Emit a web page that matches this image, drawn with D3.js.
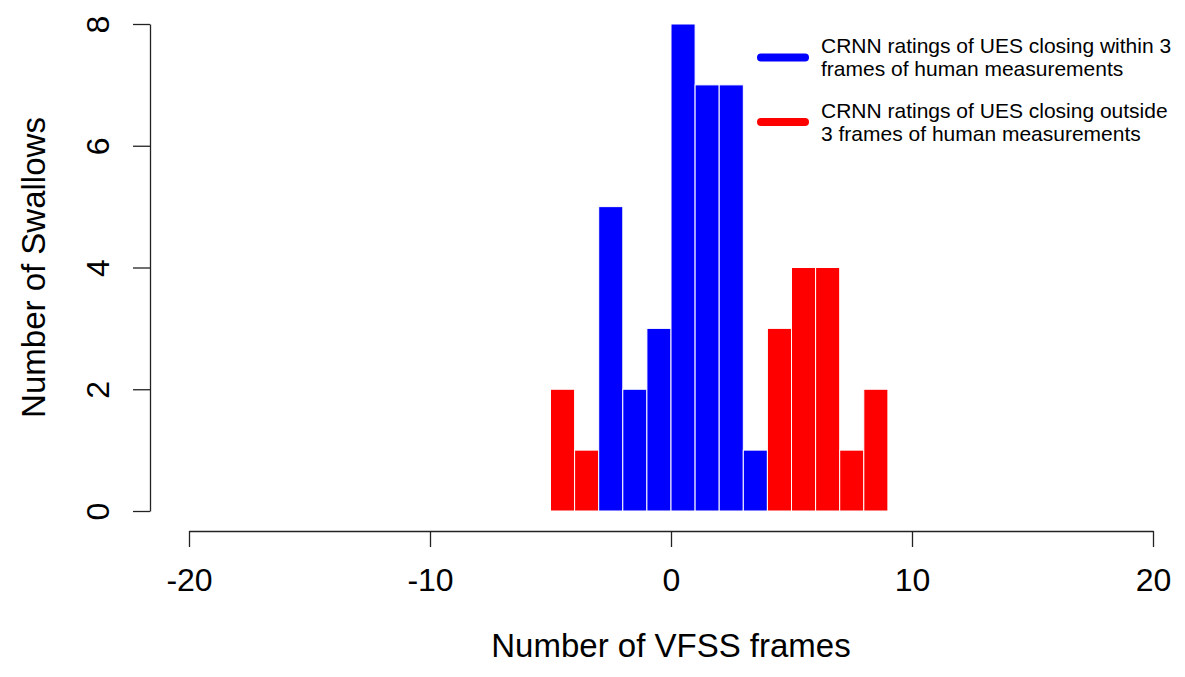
<!DOCTYPE html>
<meta charset="utf-8">
<head>
    <script type="text/javascript" src="https://cdn.jsdelivr.net/npm/d3@7"></script>
    <style>
        body {
            margin: 0;
            background: white;
            font-family: "Liberation Sans", Arial, sans-serif;
        }
        .axis path, .axis line {
            stroke: #222;
            stroke-width: 1.3;
        }
        .axis text {
            font-size: 32px;
            fill: black;
            font-family: "Liberation Sans", Arial, sans-serif;
        }
        .bar {
            stroke: white;
            stroke-width: 1;
        }
    </style>
    <title>Histogram of CRNN ratings</title>
</head>
<body>
    <div id="chart"></div>
    <script>
        var w = 1185;
        var h = 677;

        // histogram bins (lower edge, width 1) and counts
        var binStarts = [-5, -4, -3, -2, -1, 0, 1, 2, 3, 4, 5, 6, 7, 8];
        var counts    = [ 2,  1,  5,  2,  3, 8, 7, 7, 1, 3, 4, 4, 1, 2];
        var groups    = ["outside", "outside", "within", "within", "within", "within", "within",
                         "within", "within", "outside", "outside", "outside", "outside", "outside"];

        var xTicks = [-20, -10, 0, 10, 20];
        var yTicks = [0, 2, 4, 6, 8];

        var legendLabels = [
            ["CRNN ratings of UES closing within 3", "frames of human measurements"],
            ["CRNN ratings of UES closing outside", "3 frames of human measurements"]
        ];
        var colors = {within: "#0000ff", outside: "#ff0000"};
        var legendKeys = ["within", "outside"];

        var svg = d3.select("#chart")
            .append("svg")
            .attr("width", w)
            .attr("height", h);

        var x = d3.scaleLinear().domain([-20, 20]).range([189, 1153]);
        var y = d3.scaleLinear().domain([0, 8]).range([511, 24]);

        var data = binStarts.map((b, i) => ({x0: b, x1: b + 1, n: counts[i], g: groups[i]}));

        // bars
        svg.append("g")
            .selectAll("rect")
            .data(data)
            .enter()
            .append("rect")
            .attr("class", "bar")
            .attr("x", d => x(d.x0))
            .attr("width", d => x(d.x1) - x(d.x0))
            .attr("y", d => y(d.n))
            .attr("height", d => y(0) - y(d.n))
            .style("fill", d => colors[d.g]);

        // x axis (R style, detached below the plot)
        var xAxis = svg.append("g")
            .attr("class", "axis")
            .attr("transform", "translate(0,531)")
            .call(d3.axisBottom(x).tickValues(xTicks).tickSize(16).tickSizeOuter(0).tickFormat(d3.format("d")));
        xAxis.selectAll("text")
            .attr("y", 60)
            .attr("dy", 0)
            .text(d => String(d).replace("\u2212", "-"));

        // y axis
        var yAxis = svg.append("g")
            .attr("class", "axis")
            .attr("transform", "translate(150,0)")
            .call(d3.axisLeft(y).tickValues(yTicks).tickSize(17).tickSizeOuter(0));
        yAxis.selectAll("text")
            .attr("x", 0)
            .attr("dy", 0)
            .attr("text-anchor", "middle")
            .attr("transform", "translate(-41,0) rotate(-90)");

        // axis titles
        svg.append("text")
            .attr("x", x(0))
            .attr("y", 657)
            .attr("text-anchor", "middle")
            .style("font-size", "33px")
            .text("Number of VFSS frames");

        svg.append("text")
            .attr("transform", "translate(45," + ((y(0) + y(8)) / 2) + ") rotate(-90)")
            .attr("text-anchor", "middle")
            .style("font-size", "33px")
            .text("Number of Swallows");

        // legend
        var legend = svg.append("g");
        legendKeys.forEach((k, i) => {
            var cy = 57.5 + i * 64.5;
            legend.append("line")
                .attr("x1", 761).attr("x2", 805)
                .attr("y1", cy).attr("y2", cy)
                .style("stroke", colors[k])
                .style("stroke-width", 8)
                .style("stroke-linecap", "round");
            legendLabels[i].forEach((t, j) => {
                legend.append("text")
                    .attr("x", 821)
                    .attr("y", cy - 4.5 + j * 23)
                    .style("font-size", "21px")
                    .text(t);
            });
        });
    </script>
</body>
</html>
